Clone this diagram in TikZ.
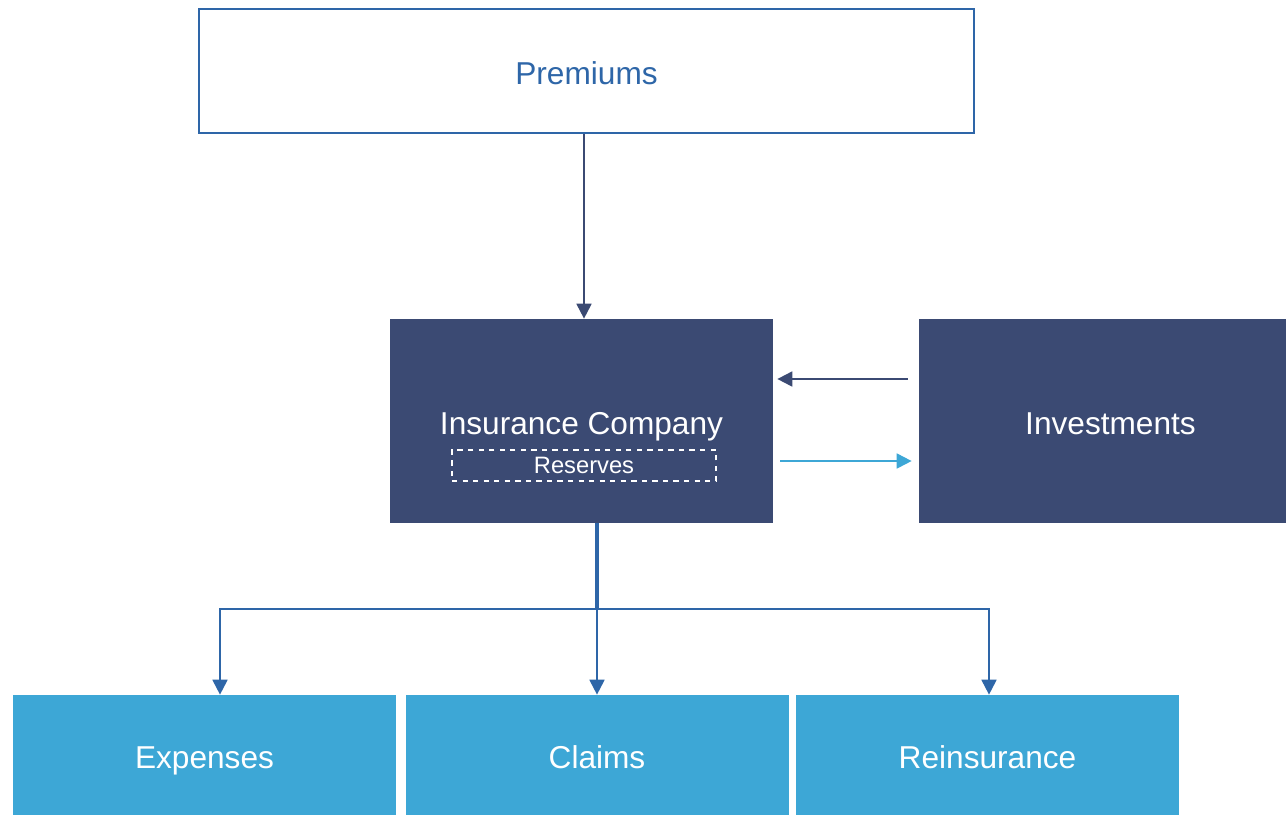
\documentclass[tikz,border=0pt]{standalone}
\usepackage{fontspec}
\setmainfont{Liberation Sans}
\usetikzlibrary{arrows.meta,positioning}

\definecolor{navy}{HTML}{3B4A73}
\definecolor{linkblue}{HTML}{2E66A8}
\definecolor{lightblue}{HTML}{3DA7D6}

\begin{document}
\begin{tikzpicture}[x=1cm, y=1cm, >={Triangle[length=8.5pt, width=8.5pt]}]
        \tikzstyle{label}=[font=\fontsize{18}{22}\selectfont, text height=15pt, text depth=0pt];
        \tikzstyle{topbox}=[label, draw=linkblue, line width=1.2pt, fill=white, text=linkblue, minimum width=15.5cm, minimum height=2.48cm];
        \tikzstyle{dark}=[label, fill=navy, text=white, minimum height=4.08cm];
        \tikzstyle{outflow}=[label, fill=lightblue, text=white, minimum width=7.66cm, minimum height=2.4cm];
        \tikzstyle{flow}=[->, draw=linkblue, line width=1.1pt];

        \useasboundingbox (0,0) rectangle (25.72,-16.3);

        \node[topbox] (premiums) at (11.73,-1.42) {Premiums};
        \node[dark, minimum width=7.66cm] (company) at (11.63,-8.42) {};
        \node[label, text=white] (companylabel) at (company.center) {Insurance Company};
        \node[draw=white, dashed, line width=0.9pt, text=white, font=\fontsize{13.5}{16}\selectfont, minimum width=5.28cm, minimum height=0.62cm, inner sep=0pt] (reserves) at (11.68,-9.31) {Reserves};
        \node[dark, minimum width=7.34cm] (investments) at (22.05,-8.42) {};
        \node[label, text=white, right=0.16cm of investments.center, anchor=center] (investmentslabel) {Investments};

        \node[outflow] (expenses) at (4.09,-15.1) {Expenses};
        \node[outflow] (claims) at (11.94,-15.1) {Claims};
        \node[outflow] (reinsurance) at (19.75,-15.1) {Reinsurance};

        % money in
        \draw[->, draw=navy, line width=1.1pt] ([xshift=-0.05cm]premiums.south) -- ([xshift=-0.05cm]premiums.south |- company.north);
        \draw[->, draw=navy, line width=1.1pt, shorten <=0.22cm, shorten >=0.08cm] ([yshift=0.84cm]investments.west) -- ([yshift=0.84cm]company.east);
        \draw[->, draw=lightblue, line width=1.1pt, shorten <=0.14cm, shorten >=0.14cm] ([yshift=-0.8cm]company.east) -- ([yshift=-0.8cm]investments.west);

        % money out
        \coordinate (split) at (claims |- 0,-12.18);
        \coordinate (toexpenses) at ([xshift=0.31cm]expenses.north);
        \coordinate (toreinsurance) at ([xshift=0.03cm]reinsurance.north);
        \draw[draw=linkblue, line width=2.2pt] (claims |- company.south) -- (split);
        \draw[flow] (split) -| (toexpenses);
        \draw[flow] (split) -| (toreinsurance);
        \draw[flow] (split) -- (claims.north);
    \end{tikzpicture}
\end{document}
